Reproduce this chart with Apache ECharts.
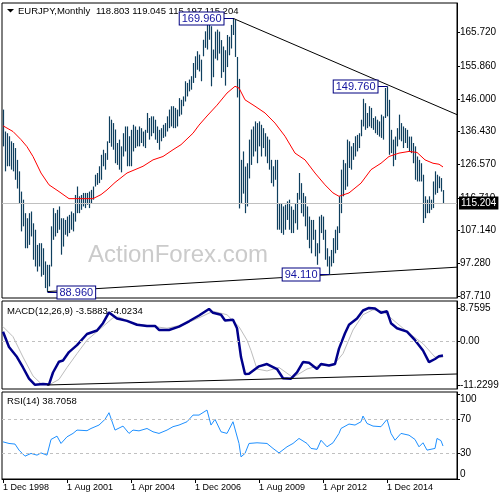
<!DOCTYPE html>
<html><head><meta charset="utf-8">
<script src="https://cdn.jsdelivr.net/npm/echarts@6/dist/echarts.min.js"></script>
<style>html,body{margin:0;padding:0;background:#fff}#c{width:500px;height:500px}</style>
</head><body><div id="c"></div>
<script>
// ---------- data ----------
const symbolName = 'EURJPY,Monthly';
const lastOHLC = [118.803, 119.045, 115.197, 115.204];
// monthly bars, index 0 = Dec 1998 ... 220 = Apr 2017
const highs = [
142.9,136.4,135.9,135.0,133.5,133.0,131.5,128.0,124.6,118.6,
116.2,112.2,110.7,112.2,112.7,109.2,107.3,102.8,103.3,103.3,
101.8,97.9,96.9,96.9,108.3,113.7,112.2,113.2,114.2,110.7,
110.7,110.2,111.2,111.7,112.7,112.2,117.6,120.1,117.2,117.6,
118.2,118.2,118.2,118.6,119.1,120.1,123.6,124.1,126.1,129.5,
131.0,130.0,133.5,140.9,139.9,138.9,137.0,133.0,134.0,132.0,
135.9,137.9,137.9,135.0,136.9,138.4,137.9,136.9,137.9,137.4,
136.4,136.9,141.9,140.4,140.9,140.9,139.9,137.9,136.9,137.4,
138.4,138.9,140.9,142.9,143.9,143.9,143.4,142.9,146.3,145.8,
146.8,151.3,150.8,151.8,152.8,156.7,158.7,160.2,159.2,157.7,
163.6,166.1,168.1,168.9,167.6,160.7,166.0,166.6,166.0,163.5,
161.6,160.5,165.0,164.5,168.0,169.96,169.5,158.5,152.0,128.0,
130.5,126.0,127.0,134.0,137.0,137.9,139.4,138.9,139.4,138.4,
137.4,135.9,134.9,134.0,128.0,126.1,128.0,128.0,115.2,115.2,
114.2,114.7,115.7,116.2,114.2,113.2,115.2,118.2,124.1,121.1,
118.2,117.2,114.2,111.2,110.2,110.2,107.3,103.3,111.2,111.7,
111.2,107.3,101.8,99.4,101.3,104.8,107.3,108.3,117.2,125.1,
128.0,127.0,134.0,133.5,132.0,133.0,135.0,135.4,135.9,139.9,
146.1,144.8,141.9,143.9,143.4,140.4,140.9,139.9,139.4,141.4,
140.9,149.3,149.76,145.8,136.9,134.0,134.9,137.4,141.4,138.9,
137.9,137.4,136.9,134.9,134.9,133.0,132.0,129.0,128.0,127.0,
123.6,117.2,116.2,117.2,116.2,121.6,124.6,123.6,123.1,122.6,
119.045];
const lows = [
132.0,124.6,126.1,126.1,125.1,124.6,122.1,119.5,115.2,106.8,
108.3,101.8,101.8,102.8,105.3,98.4,96.4,94.9,96.4,93.4,
93.9,90.0,88.96,90.5,96.4,104.3,105.3,106.3,107.3,99.9,
102.3,105.8,105.3,106.3,107.3,106.8,109.7,112.2,112.2,113.2,
114.2,113.7,114.7,113.7,115.2,116.2,120.1,120.6,121.1,122.1,
126.1,125.1,128.0,133.0,131.9,131.0,127.0,126.5,125.1,124.3,
129.0,130.5,126.1,126.1,126.1,130.5,131.5,132.0,132.0,133.0,
132.0,131.5,136.0,134.0,135.0,135.9,134.0,133.0,131.0,133.5,
134.5,134.9,136.4,137.4,137.9,137.4,137.4,137.9,140.9,141.4,
143.9,145.3,146.8,148.3,148.8,150.8,152.3,154.7,154.2,151.3,
158.7,161.2,160.7,163.6,149.8,152.5,158.0,157.5,159.5,152.3,
154.0,150.0,155.5,159.0,161.0,165.0,158.5,146.5,113.6,115.0,
118.0,112.2,114.2,122.5,126.5,129.0,130.5,127.0,132.0,129.0,
131.5,129.0,127.0,125.1,121.1,120.1,122.1,107.3,107.3,106.3,
105.8,107.3,110.2,107.3,106.3,106.3,109.2,107.3,116.2,112.2,
111.2,108.3,104.3,101.8,100.3,104.3,99.4,96.9,100.3,106.3,
104.3,98.4,96.4,94.11,96.4,97.4,100.3,101.3,106.3,112.2,
117.2,119.1,120.1,125.6,125.1,128.0,129.0,130.5,131.5,135.0,
137.9,136.9,137.4,137.9,137.4,136.9,135.9,135.4,134.9,134.5,
134.0,140.4,140.9,129.5,130.0,126.1,128.0,132.0,134.0,133.5,
131.5,133.0,131.5,130.5,130.0,127.0,122.1,121.6,121.6,121.6,
109.3,110.7,112.2,112.2,113.2,113.7,117.7,118.2,119.6,118.6,
115.197];
// moving average (red), [bar index, value]
const maPts = [[0,138.1],[5,136.4],[9,134.0],[12,131.9],[15,129.0],[19,124.1],[23,120.6],[28,118.6],[33,116.5],[40,116.5],[45,116.5],[49,117.7],[52,119.1],[56,121.3],[62,124.1],[70,126.1],[75,128.0],[80,129.0],[85,131.0],[89,132.5],[95,135.9],[98,138.3],[102,141.0],[107,144.2],[112,147.8],[116,149.8],[118,149.3],[121,145.8],[126,143.9],[131,141.9],[136,138.9],[141,135.0],[146,130.0],[151,128.0],[156,124.1],[161,120.6],[165,118.2],[168,117.2],[173,118.2],[179,121.1],[184,125.1],[189,127.0],[193,129.0],[198,130.0],[203,130.5],[207,130.2],[211,128.0],[215,127.0],[218,126.7],[220,125.9]];
const macdPts = [[0,2.6],[3,-1.4],[7,-4.0],[10,-6.7],[13,-9.6],[16,-11.2],[20,-11.0],[23,-11.1],[25,-8.0],[28,-5.2],[30,-4.9],[33,-2.7],[37,-0.9],[42,2.0],[47,2.9],[50,4.8],[53,7.6],[57,6.0],[62,5.4],[67,4.4],[72,4.1],[76,4.1],[78,3.05],[83,3.05],[88,3.9],[93,5.3],[98,6.8],[103,8.5],[105,7.5],[109,7.0],[111,5.5],[115,5.7],[117,3.5],[119,-4.0],[121,-8.4],[123,-8.3],[128,-6.4],[132,-5.8],[137,-7.1],[140,-9.5],[144,-9.6],[147,-8.0],[150,-5.3],[153,-5.5],[157,-7.1],[159,-5.8],[163,-6.2],[166,-5.8],[168,-1.8],[171,2.2],[173,4.4],[177,6.0],[180,8.1],[183,8.76],[186,8.6],[189,7.5],[192,7.9],[194,4.8],[197,3.5],[202,2.6],[206,0.4],[210,-2.3],[213,-5.3],[216,-4.5],[218,-3.8],[220,-3.5883]];
const signalPts = [[0,3.9],[5,1.3],[10,-4.0],[15,-8.9],[19,-10.9],[23,-11.23],[28,-9.8],[32,-6.7],[37,-3.1],[42,0.4],[48,3.05],[55,6.2],[58,6.4],[65,4.8],[73,4.1],[82,3.5],[90,4.4],[98,6.2],[105,7.9],[112,7.0],[118,3.9],[122,0.4],[124,-2.3],[127,-7.1],[132,-7.6],[138,-6.7],[145,-9.3],[152,-7.1],[158,-6.2],[165,-6.2],[170,-3.1],[175,3.05],[180,7.0],[185,8.3],[190,7.9],[197,4.8],[203,2.2],[210,-0.5],[216,-4.0],[220,-4.0234]];
const rsiPts = [[0,43.6],[3,41.7],[6,41.0],[8,33.9],[11,26.8],[14,30.0],[17,28.0],[19,30.6],[22,28.0],[24,46.4],[27,50.3],[29,41.7],[32,49.5],[35,53.5],[37,57.4],[42,56.7],[44,59.3],[48,63.3],[51,70.0],[53,77.8],[56,57.4],[60,62.1],[63,53.5],[65,57.4],[68,56.5],[72,59.3],[75,55.4],[78,53.5],[82,57.4],[85,61.4],[88,63.3],[92,67.2],[95,75.0],[98,75.0],[102,80.9],[104,63.3],[106,70.0],[109,55.4],[112,53.5],[115,67.2],[118,41.7],[119,26.0],[121,30.0],[123,41.7],[124,43.6],[127,42.5],[132,41.7],[135,35.9],[138,30.6],[142,37.8],[145,41.7],[148,47.6],[152,41.7],[154,35.9],[157,34.8],[159,45.5],[162,37.8],[165,42.5],[168,53.5],[169,59.3],[173,64.5],[176,63.3],[179,67.2],[180,73.9],[182,65.2],[185,62.1],[189,61.4],[192,70.0],[194,53.5],[196,45.5],[199,53.5],[203,51.4],[206,46.4],[208,37.8],[210,42.5],[212,33.9],[216,35.9],[217,47.6],[219,45.0],[220,38.7058]];
const macdLast = [-3.5883, -4.0234];
const rsiLast = 38.7058;
const priceTicks = [87.71, 97.28, 107.14, 116.71, 126.57, 136.43, 146.00, 155.86, 165.72];
const macdTicks = [-11.2299, 0, 8.7595];
const macdTickLabels = ['-11.2299', '0.00', '8.7595'];
const rsiTicks = [0, 30, 70, 100];
const rsiLevels = [30, 70];
const xTickIdx = [0, 32, 64, 96, 128, 160, 192];
const xTickLabels = ['1 Dec 1998','1 Aug 2001','1 Apr 2004','1 Dec 2006','1 Aug 2009','1 Apr 2012','1 Dec 2014'];
const upperTrend = [[115,169.96],[227,141.4]];
const lowerTrend = [[22,88.96],[227,96.2]];
const macdTrend = [[22,-11.25],[227,-8.39]];
const extremeIdx = [115, 192, 22, 163];
const extremeVal = [169.96, 149.76, 88.96, 94.11];
const extremeSide = ['left', 'left', 'right', 'left'];

// ---------- chart ----------
const FONT = '"Liberation Sans", Arial, sans-serif';
const chart = echarts.init(document.getElementById('c'), null, {renderer: 'canvas'});
const gridBase = {left: 2, right: 43, show: true, borderColor: '#000', borderWidth: 1, backgroundColor: 'transparent', containLabel: false, outerBoundsMode: 'none'};
const xAx = (k) => ({
  type: 'value', gridIndex: k, min: -0.5, max: 227, show: k === 2, position: 'bottom',
  axisLine: {show: true, onZero: false, lineStyle: {color: '#000', width: 1}},
  axisTick: {show: true, customValues: xTickIdx, length: 4, lineStyle: {color: '#000'}},
  axisLabel: {show: true, customValues: xTickIdx, formatter: v => xTickLabels[xTickIdx.indexOf(v)] || '',
    align: 'left', margin: 4, fontSize: 9, fontFamily: FONT, color: '#000'},
  splitLine: {show: false}
});
const yAxBase = {
  type: 'value', position: 'right', scale: true,
  axisLine: {show: true, onZero: false, lineStyle: {color: '#000', width: 1}},
  splitLine: {show: false}
};
const lineS = (x, y, data, color, width, z) => ({
  type: 'line', xAxisIndex: x, yAxisIndex: y, data, symbol: 'none', showSymbol: false,
  lineStyle: {color, width}, itemStyle: {color}, z: z || 3, silent: true, animation: false,
  emphasis: {disabled: true}
});

const option = {
  animation: false,
  backgroundColor: '#fff',
  grid: [
    Object.assign({top: 3, height: 295}, gridBase),
    Object.assign({top: 301, height: 88}, gridBase),
    Object.assign({top: 392, height: 87}, gridBase)
  ],
  xAxis: [xAx(0), xAx(1), xAx(2)],
  yAxis: [
    Object.assign({}, yAxBase, {gridIndex: 0, min: 87.06, max: 174.49,
      axisTick: {show: true, customValues: priceTicks, length: 3, lineStyle: {color: '#000'}},
      axisLabel: {customValues: priceTicks, formatter: v => v.toFixed(3), margin: 3, fontSize: 10, fontFamily: FONT, color: '#000'}}),
    Object.assign({}, yAxBase, {gridIndex: 1, min: -12.29, max: 10.57,
      axisTick: {show: true, customValues: macdTicks, length: 3, lineStyle: {color: '#000'}},
      axisLabel: {customValues: macdTicks, formatter: v => macdTickLabels[macdTicks.indexOf(v)] || '', margin: 3, fontSize: 10, fontFamily: FONT, color: '#000'}}),
    Object.assign({}, yAxBase, {gridIndex: 2, min: 0, max: 102.1,
      axisTick: {show: true, customValues: rsiTicks, length: 3, lineStyle: {color: '#000'}},
      axisLabel: {customValues: rsiTicks, formatter: v => String(v), margin: 3, fontSize: 10, fontFamily: FONT, color: '#000',
        verticalAlignMinLabel: 'bottom', verticalAlignMaxLabel: 'top'}})
  ],
  graphic: [
    {type: 'text', x: 88, y: 243, z: -10, silent: true,
      style: {text: 'ActionForex.com', font: '24px ' + FONT, fill: '#cbcbcb'}},
    {type: 'polygon', silent: true, shape: {points: [[7, 9], [14, 9], [10.5, 12.5]]}, style: {fill: '#000'}},
    {type: 'text', x: 18, y: 6, silent: true, style: {text: symbolName, font: '9.5px ' + FONT, fill: '#000'}},
    {type: 'text', x: 96, y: 6, silent: true, style: {text: lastOHLC.map(v => v.toFixed(3)).join(' '), font: '9.5px ' + FONT, fill: '#000'}},
    {type: 'text', x: 7, y: 306, silent: true, style: {text: 'MACD(12,26,9) ' + macdLast[0].toFixed(4) + ' ' + macdLast[1].toFixed(4), font: '9.5px ' + FONT, fill: '#000'}},
    {type: 'text', x: 7, y: 396, silent: true, style: {text: 'RSI(14) ' + rsiLast.toFixed(4), font: '9.5px ' + FONT, fill: '#000'}}
  ],
  series: [
    // lower trendline, also carries the current price line
    Object.assign(lineS(0, 0, lowerTrend, '#000', 1, 1), {
      markLine: {silent: true, symbol: 'none', animation: false,
        data: [{yAxis: lastOHLC[3]}],
        lineStyle: {color: '#c0c0c0', type: 'solid', width: 1},
        label: {show: true, position: 'end', distance: 2, formatter: lastOHLC[3].toFixed(3),
          color: '#fff', backgroundColor: '#000', padding: [2, 2, 1, 2], fontSize: 10, fontFamily: FONT},
        emphasis: {disabled: true}}
    }),
    {
      type: 'custom', xAxisIndex: 0, yAxisIndex: 0, z: 2, silent: true, animation: false,
      data: highs.map((h, i) => [i, lows[i], h]),
      encode: {x: 0, y: [1, 2]},
      renderItem: (params, api) => {
        const lo = api.coord([api.value(0), api.value(1)]);
        const hi = api.coord([api.value(0), api.value(2)]);
        const x = Math.round(lo[0]) + 0.5;
        return {type: 'line', shape: {x1: x, y1: lo[1], x2: x, y2: hi[1]},
          style: {stroke: '#0f3f5e', lineWidth: 1.2}};
      }
    },
    lineS(0, 0, maPts, '#ff0000', 1, 3),
    lineS(0, 0, upperTrend, '#000', 1, 3),
    {
      type: 'custom', xAxisIndex: 0, yAxisIndex: 0, z: 5, silent: true, animation: false, clip: false,
      data: extremeIdx.map((i, k) => [i, extremeVal[k]]),
      renderItem: (params, api) => {
        const p = api.coord([api.value(0), api.value(1)]);
        const side = extremeSide[params.dataIndex];
        const y = Math.round(p[1]) + 0.5;
        const x0 = Math.round(p[0]) + 0.5;
        const x1 = side === 'left' ? x0 - 10 : x0 + 10;
        return {type: 'group', children: [
          {type: 'line', shape: {x1: x0, y1: y, x2: x1, y2: y}, style: {stroke: '#000080', lineWidth: 1}},
          {type: 'text', x: x1, y: y, style: {
            text: api.value(1).toFixed(3), fill: '#1414a0', font: '11px ' + FONT,
            align: side === 'left' ? 'right' : 'left', verticalAlign: 'middle',
            backgroundColor: '#fff', borderColor: '#000080', borderWidth: 1, padding: [1, 2, 0, 2]}}
        ]};
      }
    },
    // MACD panel
    Object.assign(lineS(1, 1, signalPts, '#bdbdbd', 1, 2), {
      markLine: {silent: true, symbol: 'none', animation: false, data: [{yAxis: 0}],
        lineStyle: {color: '#c0c0c0', type: [3, 3], width: 1}, label: {show: false}, emphasis: {disabled: true}}
    }),
    lineS(1, 1, macdPts, '#00008b', 2.5, 3),
    lineS(1, 1, macdTrend, '#000', 1, 3),
    // RSI panel
    Object.assign(lineS(2, 2, rsiPts, '#1e90ff', 1, 3), {
      markLine: {silent: true, symbol: 'none', animation: false,
        data: rsiLevels.map(v => ({yAxis: v})),
        lineStyle: {color: '#c0c0c0', type: [3, 3], width: 1}, label: {show: false}, emphasis: {disabled: true}}
    })
  ]
};
chart.setOption(option);
</script></body></html>
